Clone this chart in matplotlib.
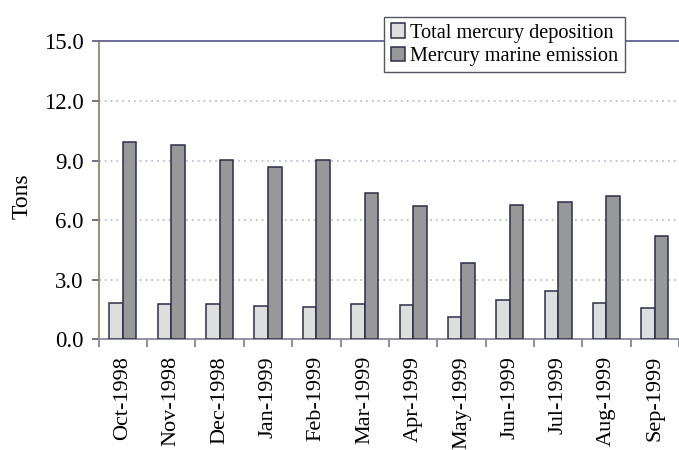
import matplotlib
matplotlib.use("Agg")
import matplotlib.pyplot as plt
import numpy as np

months = ["Oct-1998", "Nov-1998", "Dec-1998", "Jan-1999", "Feb-1999", "Mar-1999",
          "Apr-1999", "May-1999", "Jun-1999", "Jul-1999", "Aug-1999", "Sep-1999"]
deposition = [1.84, 1.78, 1.78, 1.68, 1.64, 1.78, 1.75, 1.14, 1.98, 2.42, 1.84, 1.58]
emission = [9.91, 9.78, 9.02, 8.69, 9.02, 7.36, 6.71, 3.84, 6.76, 6.91, 7.21, 5.20]
yticks = [0.0, 3.0, 6.0, 9.0, 12.0, 15.0]

plt.rcParams['font.family'] = ['Liberation Serif', 'DejaVu Serif']

fig = plt.figure(figsize=(6.79, 4.5), dpi=100)
ax = fig.add_axes([0.1454, 0.246, 0.8546, 0.662])

x = np.arange(len(months))
w = 0.28
edge = "#2e2e48"
b1 = ax.bar(x - w / 2, deposition, w, color="#dedede", edgecolor=edge, linewidth=1.1,
            label="Total mercury deposition", zorder=3)
b2 = ax.bar(x + w / 2, emission, w, color="#989898", edgecolor=edge, linewidth=1.1,
            label="Mercury marine emission", zorder=3)

ax.set_xlim(-0.5, len(months) - 0.5)
ax.set_ylim(0, 15)
ax.set_yticks(yticks)
ax.set_yticklabels([f"{v:.1f}" for v in yticks], fontsize=16.5)
ax.set_xticks(x)
ax.set_xticklabels(months, rotation=90, fontsize=16)
ax.set_xticks(np.arange(len(months) + 1) - 0.5, minor=True)
ax.tick_params(axis='x', which='major', length=0, pad=12)
ax.tick_params(axis='x', which='minor', length=6, width=1.2, color="#7a7a9a", direction='out')
ax.tick_params(axis='y', length=5, width=1.2, color="#55557a", direction='out', pad=6)

for v in yticks[1:-1]:
    ax.axhline(v, color="#b4b4c8", linestyle=(0, (1.2, 2.6)), linewidth=1.1, zorder=1)

ax.spines['right'].set_visible(False)
ax.spines['top'].set_color("#6c6c98")
ax.spines['top'].set_linewidth(1.4)
ax.spines['left'].set_color("#8c8c6a")
ax.spines['left'].set_linewidth(1.3)
ax.spines['bottom'].set_color("#8a8a9a")
ax.spines['bottom'].set_linewidth(1.3)

ax.set_ylabel("Tons", fontsize=17, va='center', ha='center')
ax.yaxis.set_label_coords(-0.1315, 0.48)

leg = ax.legend(loc='center', bbox_to_anchor=(0.743, 0.901), bbox_transform=fig.transFigure,
                fontsize=14.6, frameon=True, fancybox=False, framealpha=1,
                handlelength=0.7, handleheight=0.7, handletextpad=0.25,
                borderpad=0.32, labelspacing=0.2, borderaxespad=0)
leg.get_frame().set_edgecolor("#555560")
leg.get_frame().set_linewidth(1.0)
leg.set_zorder(5)

fig.savefig("out.png", dpi=100)
